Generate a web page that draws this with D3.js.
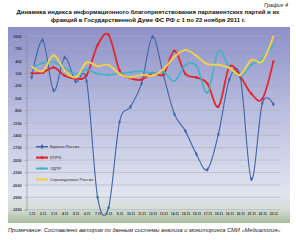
<!DOCTYPE html>
<html lang="ru"><head>
<meta charset="utf-8">
<title>График 4</title>
<script src="https://cdn.jsdelivr.net/npm/d3@7"></script>
<style>
  body { margin: 0; background: #fff; }
  svg { display: block; font-family: "Liberation Sans", Arial, sans-serif; }
</style>
</head>
<body>
<svg width="296" height="240"></svg>
<script>
// data
var dates = ["1.11","2.11","3.11","4.11","5.11","6.11","7.11","8.11","9.11","10.11","11.11","12.11",
             "13.11","14.11","15.11","16.11","17.11","18.11","19.11","20.11","21.11","22.11","23.11"];
var er   = [0, 900, -320, 480, -100, -90, -2900, -3150, -1080, -710, -150, 980, 50, -890, -1300, -1860, -2230, -1375, -50, 0, -2465, -620, -650];
var kprf = [100, 115, 240, 40, -30, 50, 780, 1030, 170, -20, -55, 105, 70, 640, 80, 0, -150, -710, 255, 15, -395, -520, 380];
var ldpr = [230, 345, 370, 220, 80, 190, 85, 60, 100, 120, 150, 100, 130, -90, 300, 280, -370, 630, 240, 30, 300, 450, 785];
var sr   = [265, 150, 535, 170, 0, 360, 270, 300, 80, 0, 60, 40, 200, 500, 665, 520, 320, 305, 230, 60, 420, 385, 990];
var yTicks = [1000, 700, 400, 100, -200, -500, -800, -1100, -1400, -1700, -2000, -2300, -2600, -2900, -3200];
var names = ["Единая Россия", "КПРФ", "ЛДПР", "Справедливая Россия"];

var series = [
  {name: names[0], values: er,   color: "#3f64a6", width: 1.1, marker: d3.symbolDiamond, msize: 6},
  {name: names[1], values: kprf, color: "#e3262d", width: 1.8, marker: d3.symbolSquare,  msize: 5},
  {name: names[2], values: ldpr, color: "#3fb3c8", width: 1.6, marker: d3.symbolTriangle, msize: 3},
  {name: names[3], values: sr,   color: "#f2d04c", width: 1.9, marker: d3.symbolCross,   msize: 3}
];

var svg = d3.select("svg");

// background gradient of chart area
var defs = svg.append("defs");
var grad = defs.append("linearGradient").attr("id", "bg")
    .attr("x1", 0).attr("y1", 0).attr("x2", 0).attr("y2", 1);
grad.append("stop").attr("offset", "0%").attr("stop-color", "#8c90c7");
grad.append("stop").attr("offset", "45%").attr("stop-color", "#bcc0e0");
grad.append("stop").attr("offset", "85%").attr("stop-color", "#e0e4ef");
grad.append("stop").attr("offset", "93%").attr("stop-color", "#d3ddd6");
grad.append("stop").attr("offset", "100%").attr("stop-color", "#a8bd9b");

svg.append("rect")
    .attr("x", 8).attr("y", 27).attr("width", 282).attr("height", 196)
    .attr("fill", "url(#bg)");

// titles
svg.append("text").attr("x", 288).attr("y", 7)
    .attr("text-anchor", "end").attr("font-style", "italic")
    .attr("font-size", 5.6).attr("fill", "#222").text("График 4");
svg.append("text").attr("x", 148).attr("y", 14)
    .attr("text-anchor", "middle").attr("font-weight", "bold")
    .attr("font-size", 6).attr("fill", "#111")
    .text("Динамика индекса информационного благоприятствования парламентских партий и их");
svg.append("text").attr("x", 148).attr("y", 21.5)
    .attr("text-anchor", "middle").attr("font-weight", "bold")
    .attr("font-size", 6).attr("fill", "#111")
    .text("фракций в Государственной Думе ФС РФ с 1 по 23 ноября 2011 г.");

// scales
var x = d3.scalePoint().domain(dates).range([26.2, 278.8]).padding(0.5);
var y = d3.scaleLinear().domain([-3200, 1000]).range([209.7, 36]);

// grid
svg.append("g")
    .selectAll("line")
    .data(yTicks)
    .enter().append("line")
    .attr("x1", 26.5).attr("x2", 280)
    .attr("y1", function(d){ return y(d); })
    .attr("y2", function(d){ return y(d); })
    .attr("stroke", "#a9a9b4").attr("stroke-width", 0.5);

// y axis
var yAxis = svg.append("g")
    .attr("transform", "translate(26.5,0)")
    .call(d3.axisLeft(y).tickValues(yTicks).tickSize(2).tickPadding(3)
      .tickFormat(function(d){ return String(d); }));
yAxis.select(".domain").attr("stroke", "#888").attr("stroke-width", 0.6);
yAxis.selectAll(".tick line").attr("stroke", "#888").attr("stroke-width", 0.5);
yAxis.selectAll("text").attr("font-size", 3.7).attr("font-weight", "bold")
    .attr("fill", "#333").attr("font-family", "Liberation Sans, Arial, sans-serif");

// x axis labels
var xAxis = svg.append("g")
    .attr("transform", "translate(0,209.7)")
    .call(d3.axisBottom(x).tickSize(0).tickPadding(3));
xAxis.select(".domain").remove();
xAxis.selectAll("text").attr("font-size", 3.4).attr("font-weight", "bold")
    .attr("fill", "#333").attr("font-family", "Liberation Sans, Arial, sans-serif");

// lines
var line = d3.line()
    .x(function(d, i){ return x(dates[i]); })
    .y(function(d){ return y(d); })
    .curve(d3.curveCatmullRom.alpha(0));

series.forEach(function(s) {
  svg.append("path")
      .datum(s.values)
      .attr("fill", "none")
      .attr("stroke", s.color)
      .attr("stroke-width", s.width)
      .attr("stroke-linejoin", "round")
      .attr("d", line);
  svg.append("g").selectAll("path")
      .data(s.values)
      .enter().append("path")
      .attr("transform", function(d, i){ return "translate(" + x(dates[i]) + "," + y(d) + ")"; })
      .attr("d", d3.symbol().type(s.marker).size(s.msize))
      .attr("fill", s.color);
});

// legend
var legend = svg.append("g").selectAll("g")
    .data(series)
    .enter().append("g")
    .attr("transform", function(d, i){ return "translate(36," + (146.7 + i * 10.9) + ")"; });
legend.append("line")
    .attr("x1", 0).attr("x2", 12).attr("y1", 0).attr("y2", 0)
    .attr("stroke", function(d){ return d.color; })
    .attr("stroke-width", function(d){ return d.width + 0.3; });
legend.append("path")
    .attr("transform", "translate(6,0)")
    .attr("d", function(d){ return d3.symbol().type(d.marker).size(d.msize + 2)(); })
    .attr("fill", function(d){ return d.color; });
legend.append("text")
    .attr("x", 14).attr("y", 1.4)
    .attr("font-size", 4.2).attr("fill", "#333")
    .text(function(d){ return d.name; });

// note
svg.append("text").attr("x", 8).attr("y", 232)
    .attr("font-style", "italic").attr("font-size", 5.7).attr("fill", "#222")
    .text("Примечание: Составлено автором по данным системы анализа и мониторинга СМИ «Медиалогия»");
</script>
</body>
</html>
